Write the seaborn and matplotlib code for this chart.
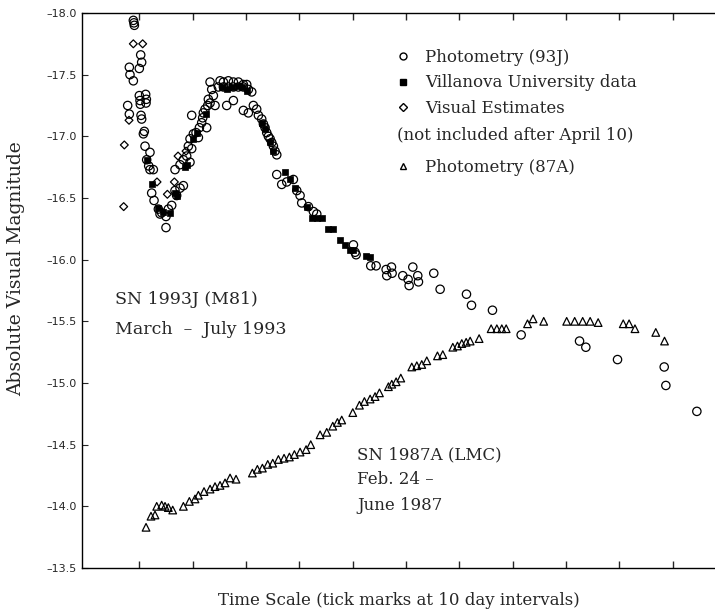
import matplotlib

matplotlib.use("Agg")
import matplotlib.pyplot as plt
import seaborn as sns
from matplotlib.lines import Line2D

# SN 1993J photometry (open circles): day, magnitude
phot93_day = [
    -1.12, -1.0, -0.93, -1.87, -1.75, 0.26, 0.44, 0.0, -1.12, 1.19, 1.32, 1.26,
    0.0, 0.13, 0.19, -2.18, -1.87, 0.32, 0.44, 0.94, 0.76, 1.07, 2.0, 1.38,
    1.76, 2.0, 2.63, 2.32, 2.76, 3.57, 4.19, 5.0, 5.44, 6.07, 3.88, 5.0,
    6.69, 7.0, 7.63, 8.26, 6.69, 7.63, 8.26, 8.88, 9.5, 9.82, 9.19, 9.5,
    10.13, 10.63, 11.07, 11.26, 11.69, 11.88, 9.82, 12.0, 12.32, 12.82, 12.94, 12.63,
    13.26, 13.57, 13.88, 14.19, 13.26, 15.13, 15.76, 16.69, 17.63, 18.57, 19.5, 20.13,
    14.82, 15.76, 16.69, 17.63, 18.57, 19.5, 20.44, 21.07, 16.38, 17.63, 19.5, 20.44,
    21.38, 22.0, 22.32, 22.94, 23.26, 23.57, 23.88, 24.19, 24.51, 24.82, 25.13, 25.44,
    25.76, 25.76, 26.69, 27.63, 28.88, 29.51, 30.13, 30.44, 31.69, 32.63, 33.26, 40.13,
    40.44, 40.63, 43.38, 44.38, 46.26, 47.26, 46.38, 47.38, 49.38, 50.38, 50.57, 51.26,
    52.19, 52.32, 55.19, 56.38, 61.32, 62.26, 66.19, 71.57, 82.51, 83.69, 89.63, 98.38,
    98.69, 104.5,
]
phot93_mag = [
    -17.94, -17.92, -17.90, -17.56, -17.50, -17.66, -17.60, -17.55, -17.45, -17.34, -17.30, -17.27,
    -17.33, -17.29, -17.26, -17.25, -17.18, -17.17, -17.14, -17.04, -17.02, -16.92, -16.87, -16.81,
    -16.76, -16.73, -16.73, -16.54, -16.48, -16.41, -16.38, -16.35, -16.41, -16.44, -16.37, -16.26,
    -16.56, -16.52, -16.58, -16.60, -16.73, -16.77, -16.81, -16.84, -16.79, -16.90, -16.92, -16.98,
    -17.02, -17.03, -16.99, -17.07, -17.11, -17.15, -17.17, -17.19, -17.22, -17.25, -17.30, -17.07,
    -17.44, -17.38, -17.33, -17.25, -17.27, -17.45, -17.44, -17.45, -17.44, -17.44, -17.42, -17.42,
    -17.40, -17.40, -17.40, -17.40, -17.40, -17.40, -17.38, -17.36, -17.25, -17.29, -17.21, -17.19,
    -17.25, -17.22, -17.17, -17.14, -17.10, -17.07, -17.03, -17.00, -16.98, -16.95, -16.92, -16.88,
    -16.85, -16.69, -16.61, -16.63, -16.65, -16.56, -16.52, -16.46, -16.43, -16.39, -16.37, -16.12,
    -16.06, -16.04, -15.95, -15.95, -15.92, -15.94, -15.87, -15.89, -15.87, -15.84, -15.79, -15.94,
    -15.87, -15.82, -15.89, -15.76, -15.72, -15.63, -15.59, -15.39, -15.34, -15.29, -15.19, -15.13,
    -14.98, -14.77,
]

# Villanova University data (filled squares)
villa_day = [
    1.5, 2.32, 3.57, 4.38, 5.76, 6.69, 7.13, 8.57, 8.88, 10.01, 10.76, 12.51,
    15.44, 16.38, 17.32, 18.57, 19.19, 20.13, 22.94, 23.57, 24.51, 25.13, 27.32, 28.26,
    29.19, 31.38, 32.32, 33.26, 34.19, 35.44, 36.38, 37.63, 38.57, 39.51, 40.13, 42.51,
    43.26,
]
villa_mag = [
    -16.81, -16.61, -16.42, -16.39, -16.38, -16.54, -16.52, -16.75, -16.77, -16.98, -17.03, -17.18,
    -17.40, -17.38, -17.40, -17.41, -17.40, -17.37, -17.11, -17.06, -16.95, -16.88, -16.71, -16.65,
    -16.58, -16.43, -16.34, -16.34, -16.34, -16.25, -16.25, -16.16, -16.12, -16.08, -16.08, -16.03,
    -16.02,
]

# Visual estimates (open diamonds)
visual_day = [-2.81, -2.93, -1.12, 0.63, -1.93, 3.32, 6.57, 5.26, 7.26, 8.76]
visual_mag = [-16.93, -16.43, -17.75, -17.75, -17.13, -16.63, -16.63, -16.53, -16.84, -16.88]

# SN 1987A photometry (open triangles)
phot87_day = [
    1.26, 2.19, 2.94, 3.26, 4.19, 4.82, 5.44, 6.26, 8.26, 9.38, 10.44, 11.07,
    12.13, 13.26, 14.19, 15.13, 16.07, 17.01, 18.13, 21.19, 22.13, 23.07, 24.07, 25.01,
    26.07, 27.13, 28.13, 29.07, 30.13, 31.26, 32.13, 33.88, 35.13, 36.26, 37.13, 37.94,
    40.01, 41.26, 42.19, 43.26, 44.19, 45.01, 46.69, 47.32, 48.13, 49.01, 51.07, 52.01,
    52.94, 53.88, 55.88, 56.88, 58.76, 59.63, 60.44, 61.26, 62.01, 63.69, 65.94, 67.01,
    67.94, 68.76, 72.76, 73.8, 75.8, 80.1, 81.6, 83.1, 84.5, 86.0, 90.7, 91.8,
    92.9, 96.8, 98.44,
]
phot87_mag = [
    -13.83, -13.92, -13.93, -14.00, -14.01, -14.00, -13.99, -13.97, -14.00, -14.04, -14.06, -14.09,
    -14.12, -14.14, -14.16, -14.17, -14.19, -14.23, -14.22, -14.27, -14.30, -14.31, -14.34, -14.35,
    -14.38, -14.39, -14.40, -14.42, -14.44, -14.46, -14.50, -14.58, -14.60, -14.65, -14.68, -14.70,
    -14.76, -14.82, -14.85, -14.87, -14.89, -14.92, -14.97, -14.99, -15.01, -15.04, -15.13, -15.14,
    -15.15, -15.18, -15.22, -15.23, -15.29, -15.30, -15.32, -15.33, -15.34, -15.36, -15.44, -15.44,
    -15.44, -15.44, -15.48, -15.52, -15.50, -15.50, -15.50, -15.50, -15.50, -15.49, -15.48, -15.48,
    -15.44, -15.41, -15.34,
]

y_ticks = [-18.0, -17.5, -17.0, -16.5, -16.0, -15.5, -15.0, -14.5, -14.0, -13.5]
x_ticks = list(range(0, 101, 10))


def main():
    sns.set_theme(style="ticks")
    plt.rcParams["font.family"] = ["DejaVu Serif"]

    fig = plt.figure(figsize=(7.15, 6.15), dpi=100)
    ax = fig.add_axes([0.1147, 0.0764, 0.8853, 0.9025])

    open_kw = dict(facecolor="none", edgecolor="black", linewidth=0.9, ax=ax)
    sns.scatterplot(x=phot87_day, y=phot87_mag, marker="^", s=30, **open_kw)
    sns.scatterplot(x=visual_day, y=visual_mag, marker="D", s=16, **open_kw)
    sns.scatterplot(x=phot93_day, y=phot93_mag, marker="o", s=36, **open_kw)
    sns.scatterplot(x=villa_day, y=villa_mag, marker="s", s=22,
                    color="black", edgecolor="black", linewidth=0.5, ax=ax)

    ax.set_xlim(-10.74, 107.9)
    ax.set_ylim(-13.5, -18.0)
    ax.set_xticks(x_ticks)
    ax.set_xticklabels([])
    ax.set_yticks(y_ticks)
    ax.set_yticklabels([f"{v:.1f}".replace("-", "\u2013") for v in y_ticks],
                       family="DejaVu Sans", fontsize=8)
    ax.tick_params(axis="x", direction="in", length=5, width=1,
                   top=True, bottom=True)
    ax.tick_params(axis="y", direction="in", length=4, width=0.8, pad=4)
    ax.spines["right"].set_visible(False)
    for side in ["left", "bottom", "top"]:
        ax.spines[side].set_linewidth(1.0)
        ax.spines[side].set_color("black")

    ax.set_xlabel("Time Scale (tick marks at 10 day intervals)", fontsize=12,
                  labelpad=14)
    ax.set_ylabel("Absolute Visual Magnitude", fontsize=13.5)
    ax.yaxis.set_label_coords(-0.09, 0.54)

    ax.text(-4.56, -15.68, "SN 1993J (M81)", fontsize=12.5, va="center")
    ax.text(-4.56, -15.43, "March  \u2013  July 1993", fontsize=12.5, va="center")
    ax.text(40.8, -14.42, "SN 1987A (LMC)", fontsize=12, va="center")
    ax.text(40.8, -14.215, "Feb. 24 \u2013", fontsize=12, va="center")
    ax.text(40.8, -14.01, "June 1987", fontsize=12, va="center")

    h1 = [
        Line2D([], [], ls="none", marker="o", ms=5, mfc="none", mec="black",
               label="Photometry (93J)"),
        Line2D([], [], ls="none", marker="s", ms=4.5, mfc="black", mec="black",
               label="Villanova University data"),
        Line2D([], [], ls="none", marker="D", ms=4, mfc="none", mec="black",
               label="Visual Estimates"),
    ]
    leg1 = ax.legend(handles=h1, loc="upper left", bbox_to_anchor=(0.481, 0.95),
                     frameon=False, fontsize=12, handlelength=1.0,
                     handletextpad=0.8, labelspacing=0.5, borderpad=0)
    ax.add_artist(leg1)
    ax.text(0.497, 0.78, "(not included after April 10)", transform=ax.transAxes,
            fontsize=12, va="center")
    h2 = [
        Line2D([], [], ls="none", marker="^", ms=5, mfc="none", mec="black",
               label="Photometry (87A)"),
    ]
    ax.legend(handles=h2, loc="upper left", bbox_to_anchor=(0.481, 0.752),
              frameon=False, fontsize=12, handlelength=1.0,
              handletextpad=0.8, borderpad=0)

    fig.savefig("out.png", dpi=100)
    plt.close(fig)


if __name__ == "__main__":
    main()
